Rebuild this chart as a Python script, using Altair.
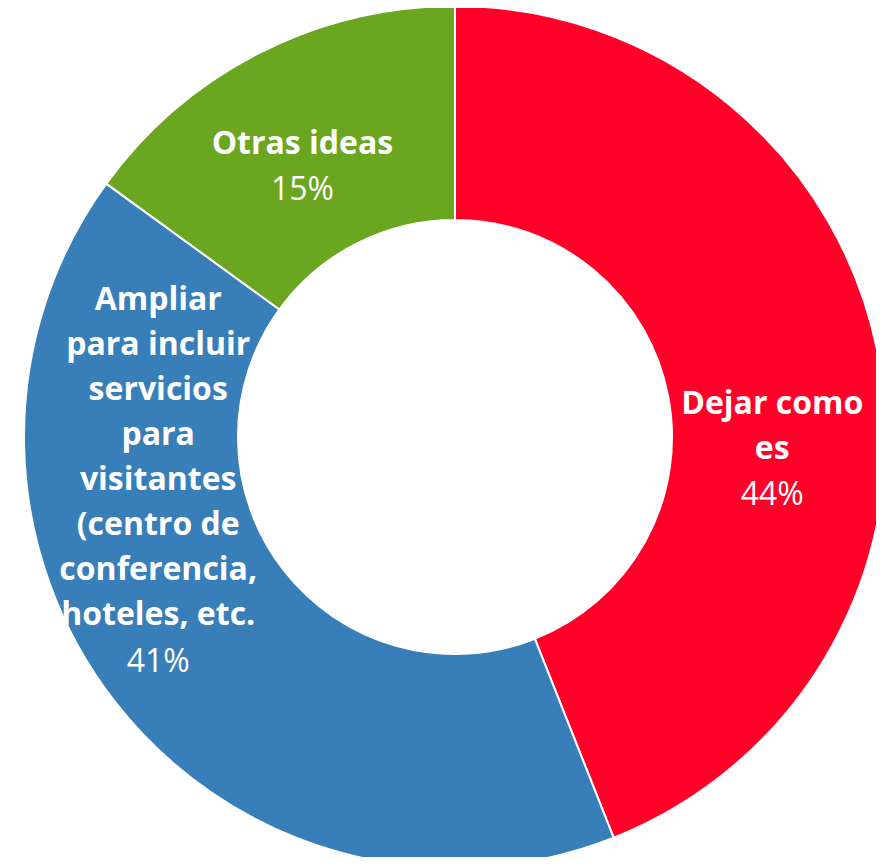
import altair as alt
import pandas as pd

categories = [
    "Dejar como es",
    "Ampliar para incluir servicios para visitantes (centro de conferencia, hoteles, etc.",
    "Otras ideas",
]
label_lines = [
    "Dejar como\nes",
    "Ampliar\npara incluir\nservicios\npara\nvisitantes\n(centro de\nconferencia,\nhoteles, etc.",
    "Otras ideas",
]
percentages = [44, 41, 15]
colors = ["#FF0029", "#387EB8", "#6AA620"]

df = pd.DataFrame({
    "category": categories,
    "label": label_lines,
    "pct": percentages,
    "idx": list(range(len(categories))),
})
df["pct_text"] = df["pct"].astype(str) + "%"

base = alt.Chart(df).encode(
    theta=alt.Theta("pct:Q", stack=True),
    order=alt.Order("idx:Q"),
)

arcs = base.mark_arc(outerRadius=431, innerRadius=217, stroke="white", strokeWidth=2).encode(
    color=alt.Color("category:N", scale=alt.Scale(domain=categories, range=colors), legend=None)
)


def label_layer(i, field, dx, dy, weight):
    return base.transform_calculate(
        t=f"datum.idx == {i} ? datum.{field} : ''"
    ).mark_text(
        radius=325, dx=dx, dy=dy, font="Open Sans", fontSize=32, fontWeight=weight,
        color="white", align="center", baseline="middle", lineBreak="\n", lineHeight=45,
    ).encode(text="t:N")


layers = [
    arcs,
    label_layer(0, "label", -2, 28, "bold"),
    label_layer(0, "pct_text", -2, 119, "normal"),
    label_layer(1, "label", -40, -336, "bold"),
    label_layer(1, "pct_text", -40, 26, "normal"),
    label_layer(2, "label", -5, -3, "bold"),
    label_layer(2, "pct_text", -5, 43, "normal"),
]

chart = alt.layer(*layers).properties(
    width=842,
    height=840,
    padding={"left": 26, "top": 9, "right": 0, "bottom": 0},
    autosize=alt.AutoSizeParams(type="none"),
    background="white",
).configure_view(stroke=None)

chart.save("out.html", embed_options={"renderer": "svg", "actions": False})
